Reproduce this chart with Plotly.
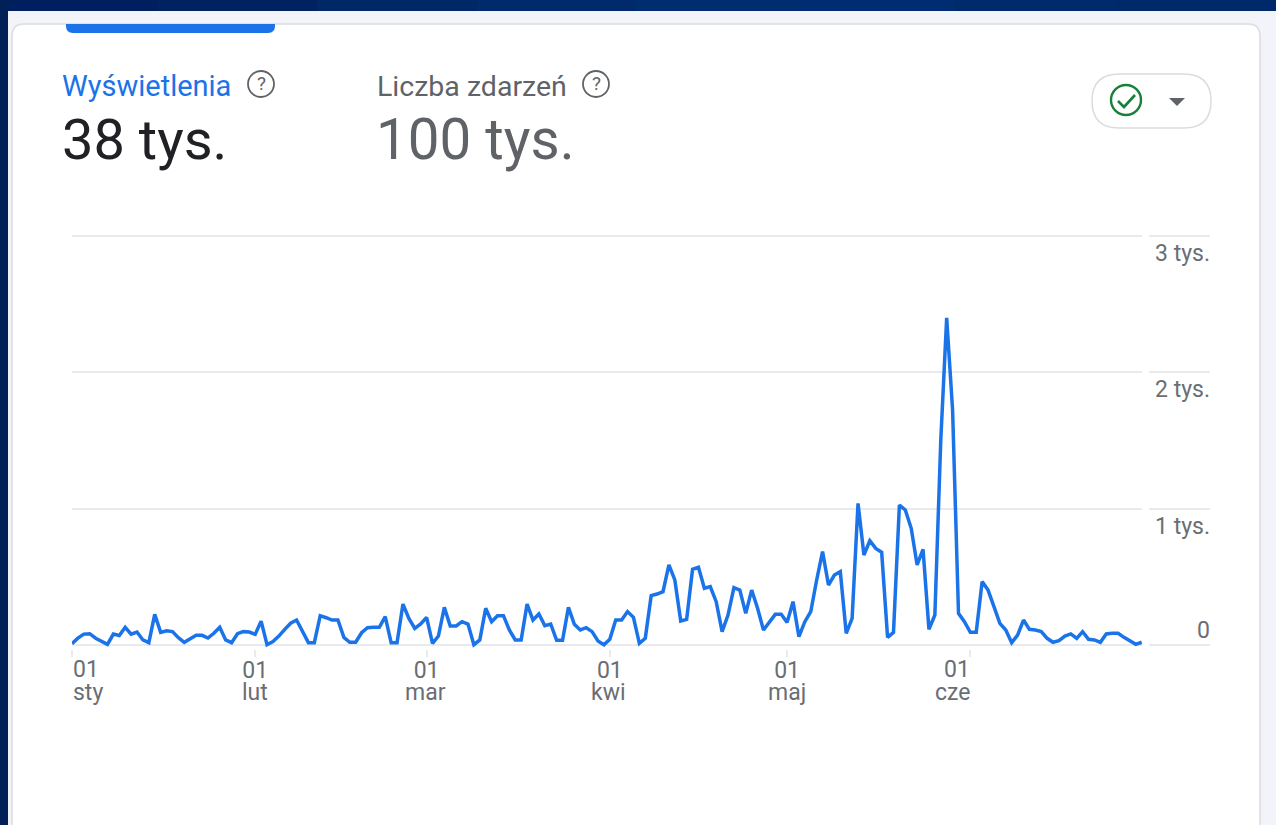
import pandas as pd
import plotly.graph_objects as go

W, H = 1276, 825

start_date = "2024-01-01"
end_date = "2024-06-30"
views = [
    10, 50, 80, 83, 50, 25, 5, 80, 70, 130, 80, 95, 37, 17, 225, 93, 105, 98, 54, 20,
    42, 71, 71, 51, 86, 130, 37, 17, 83, 98, 95, 78, 175, 2, 25, 65, 115, 160, 183, 98,
    17, 17, 215, 200, 183, 183, 56, 20, 20, 90, 127, 130, 130, 208, 17, 17, 300, 195, 122, 154,
    203, 12, 66, 276, 140, 140, 171, 154, 2, 37, 269, 171, 215, 215, 110, 37, 37, 300, 183, 227,
    142, 154, 34, 34, 276, 152, 110, 127, 98, 29, 2, 42, 183, 183, 245, 203, 12, 49, 362, 374,
    391, 587, 477, 176, 188, 555, 570, 416, 428, 318, 98, 220, 420, 403, 232, 403, 269, 110, 171, 225,
    225, 166, 318, 61, 171, 244, 477, 685, 440, 513, 538, 86, 196, 1039, 660, 765, 709, 680, 56, 93,
    1027, 990, 856, 587, 702, 115, 220, 1500, 2400, 1724, 232, 171, 93, 93, 465, 403, 281, 159, 110, 17,
    73, 183, 115, 110, 98, 49, 20, 32, 66, 81, 49, 98, 42, 37, 20, 81, 86, 86, 56, 32,
    5, 20,
]
month_ticks = ["2024-01-01", "2024-02-01", "2024-03-01", "2024-04-01", "2024-05-01", "2024-06-01"]
day_labels = ["", "01", "01", "01", "01", ""]
month_labels = ["sty", "lut", "mar", "kwi", "maj", "cze"]
y_ticks = [0, 1000, 2000, 3000]
y_labels = ["", "1 tys.", "2 tys.", "3 tys."]

BLUE = "#1a73e8"
GREY = "#5f6368"
AXIS_GREY = "#6a6e73"
DARK = "#202124"
GRID = "#e8eaed"
FONT = "Roboto"

dates = pd.date_range(start_date, end_date, freq="D")


def px(x):
    return x / W


def py(y):
    return 1 - y / H


def rect(x0, y0, x1, y1, fill, line=None, layer="below"):
    return dict(type="rect", xref="paper", yref="paper", x0=px(x0), x1=px(x1), y0=py(y1), y1=py(y0),
                fillcolor=fill, line=dict(color=line or fill, width=1 if line else 0), layer=layer)


def rounded(x0, y0, x1, y1, r, fill, line=None, width=1.5, corners=(1, 1, 1, 1)):
    tl, tr, br, bl = [r * c for c in corners]
    p = lambda x, y: f"{px(x)},{py(y)}"
    d = (f"M {p(x0 + tl, y0)} L {p(x1 - tr, y0)} Q {p(x1, y0)} {p(x1, y0 + tr)} "
         f"L {p(x1, y1 - br)} Q {p(x1, y1)} {p(x1 - br, y1)} "
         f"L {p(x0 + bl, y1)} Q {p(x0, y1)} {p(x0, y1 - bl)} "
         f"L {p(x0, y0 + tl)} Q {p(x0, y0)} {p(x0 + tl, y0)} Z")
    return dict(type="path", xref="paper", yref="paper", path=d, fillcolor=fill,
                line=dict(color=line or fill, width=width if line else 0), layer="below")


def circle(cx, cy, r, color, width):
    return dict(type="circle", xref="paper", yref="paper", x0=px(cx - r), x1=px(cx + r),
                y0=py(cy + r), y1=py(cy - r), line=dict(color=color, width=width),
                fillcolor="rgba(0,0,0,0)", layer="above")


def poly(points, color, width=0, fill=None):
    d = "M " + " L ".join(f"{px(x)},{py(y)}" for x, y in points) + (" Z" if fill else "")
    return dict(type="path", xref="paper", yref="paper", path=d,
                fillcolor=fill or "rgba(0,0,0,0)", line=dict(color=color, width=width), layer="above")


def label(x, y, text, size, color, anchor="left"):
    return dict(xref="paper", yref="paper", x=px(x), y=py(y), text=text, showarrow=False,
                xanchor=anchor, yanchor="middle", font=dict(family=FONT, size=size, color=color))


shapes = []
# dark-blue backdrop strips (overlapping so no seams show)
for i, c in enumerate(["#001f5e", "#00225f", "#002766", "#002a6c", "#002c70", "#002d72", "#002a6c", "#00296a"]):
    shapes.append(rect(i * W / 8 - 2, 0, (i + 1) * W / 8 + 2, 12, c))
shapes.append(rect(0, 0, 8, H, "#012058"))
shapes.append(rect(8, 11, W, H, "#f3f4f9"))
shapes.append(rounded(12, 24, 1260, H + 20, 12, "#ffffff", line="#dadce0"))
shapes.append(rounded(66, 24, 275, 33, 7, BLUE, corners=(0, 0, 1, 1)))
# pill button + icons
shapes.append(rounded(1092, 74, 1211, 128, 27, "#ffffff", line="#dadce0"))
shapes.append(circle(1126, 100, 15, "#188038", 2.4))
shapes.append(poly([(1118, 101), (1124, 107), (1135, 95)], "#188038", width=2.6))
shapes.append(poly([(1169, 98), (1185, 98), (1177, 106)], GREY, fill=GREY))
shapes.append(circle(261, 84, 13, GREY, 1.8))
shapes.append(circle(596, 84, 13, GREY, 1.8))
# gap in the gridlines between chart and value labels
shapes.append(dict(type="rect", xref="paper", yref="paper", x0=px(1142), x1=px(1149), y0=py(650), y1=py(230),
                   fillcolor="#ffffff", line=dict(width=0), layer="above"))

annotations = [
    label(60, 86, "Wyświetlenia", 29, BLUE),
    label(375, 86, "Liczba zdarzeń", 28.5, GREY),
    label(60, 140, "38 tys.", 56, DARK),
    label(374, 140, "100 tys.", 56.5, GREY),
    label(261, 84, "?", 19, GREY, "center"),
    label(596, 84, "?", 19, GREY, "center"),
    label(1212, 630, "0", 23, AXIS_GREY, "right"),
    label(71, 669, "01", 23, AXIS_GREY),
    label(972, 669, "01", 23, AXIS_GREY, "right"),
]
# month names under the day numbers
month_shift = [16, 0, -1, -1, 0, -18]
for tick, name, shift in zip(month_ticks, month_labels, month_shift):
    annotations.append(dict(xref="x", yref="paper", x=tick, y=py(692), text=name, showarrow=False,
                            xshift=shift, xanchor="center", yanchor="middle",
                            font=dict(family=FONT, size=23, color=AXIS_GREY)))

PX_PER_DAY = 5.91
x_end = pd.Timestamp(start_date) + pd.Timedelta(days=(1210 - 72) / PX_PER_DAY)
PX_PER_UNIT = 409 / 3000
PAD = 30  # units of padding so that the 0 and 3 tys. gridlines are drawn

fig = go.Figure(go.Scatter(x=dates, y=views, mode="lines", cliponaxis=False,
                           line=dict(color=BLUE, width=3.5, shape="linear"),
                           hoverinfo="x+y", showlegend=False))
fig.update_layout(
    width=W, height=H, margin=dict(l=0, r=0, t=0, b=0),
    paper_bgcolor="#ffffff", plot_bgcolor="rgba(0,0,0,0)",
    font=dict(family=FONT, size=23, color=AXIS_GREY),
    shapes=shapes, annotations=annotations,
    xaxis=dict(domain=[px(72), px(1210)], range=[pd.Timestamp(start_date), x_end], type="date",
               anchor="y", tickmode="array", tickvals=month_ticks, ticktext=day_labels,
               ticks="outside", ticklen=7, ticklabelstandoff=-7, tickcolor=GRID, tickwidth=1.5,
               showgrid=False, zeroline=False, showline=False,
               tickfont=dict(family=FONT, size=23, color=AXIS_GREY)),
    yaxis=dict(domain=[py(645 + PAD * PX_PER_UNIT), py(236 - PAD * PX_PER_UNIT)],
               range=[-PAD, 3000 + PAD], side="right",
               tickmode="array", tickvals=y_ticks, ticktext=y_labels,
               ticklabelposition="inside", ticklabelshift=17, ticklabelstandoff=-3, ticks="",
               showgrid=True, gridcolor=GRID, gridwidth=1.5, zeroline=False, showline=False,
               tickfont=dict(family=FONT, size=23, color=AXIS_GREY)),
)
fig.write_html("out.html", config=dict(displayModeBar=False),
               post_script="document.body.style.margin='0';document.body.style.overflow='hidden';")
